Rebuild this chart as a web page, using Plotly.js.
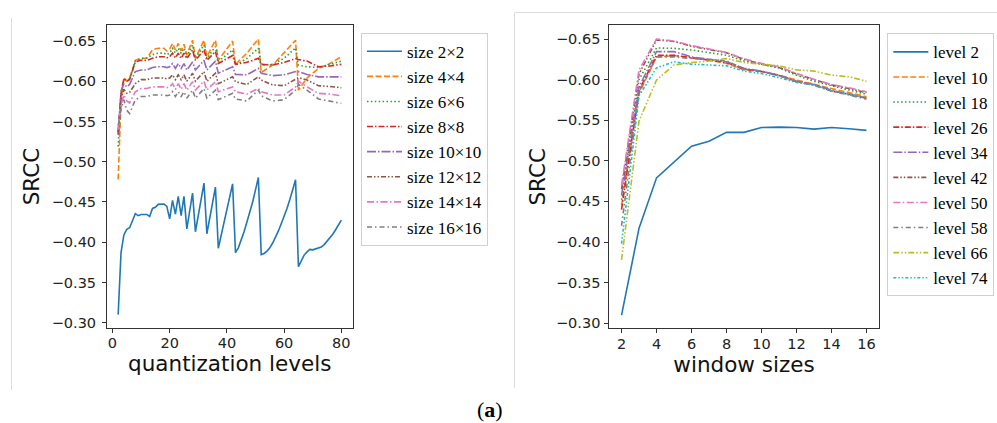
<!DOCTYPE html>
<html>
<head>
<meta charset="utf-8">
<script src="https://cdn.plot.ly/plotly-3.0.1.min.js"></script>
<style>html,body{margin:0;padding:0;background:#fff;}#chart{width:997px;height:423px;}</style>
</head>
<body>
<div id="chart"></div>
<script>
// ---------- left panel: SRCC vs quantization levels ----------
const levelsFine = [2,3,4,5,6,7,8,9,10,12,13,14,15,16,17,18,19,20,21,22,23,24,25,26,28,29,32,33,36,37,42,43,44,45,46,47,48,49,50,51,52,53,54,55,56,57,58,59,60,61,62,63,64,65,66,67,68,69,70,71,72,73,74,75,76,77,78,79,80];
const size2 = [-0.310,-0.387,-0.409,-0.416,-0.418,-0.426,-0.4355,-0.433,-0.4345,-0.4345,-0.432,-0.442,-0.4435,-0.447,-0.4475,-0.4475,-0.4445,-0.429,-0.452,-0.435,-0.457,-0.433,-0.457,-0.4165,-0.461,-0.413,-0.4735,-0.4105,-0.4685,-0.3925,-0.4725,-0.387,-0.393,-0.402,-0.413,-0.425,-0.437,-0.450,-0.465,-0.4805,-0.3846,-0.386,-0.389,-0.393,-0.399,-0.406,-0.414,-0.423,-0.432,-0.442,-0.453,-0.465,-0.4775,-0.3697,-0.3775,-0.384,-0.388,-0.391,-0.3905,-0.392,-0.393,-0.394,-0.397,-0.401,-0.405,-0.410,-0.4155,-0.421,-0.4275];

const levels = [2,3,4,5,6,8,10,12,14,16,18,19,20,21,22,23,24,25,26,28,29,32,33,36,37,42,43,47,51,52,56,60,64,65,68,72,76,80];
const size4  = [-0.478,-0.575,-0.604,-0.600,-0.603,-0.626,-0.6285,-0.6285,-0.639,-0.641,-0.641,-0.6375,-0.640,-0.647,-0.639,-0.647,-0.638,-0.646,-0.633,-0.651,-0.6285,-0.651,-0.6305,-0.651,-0.626,-0.650,-0.621,-0.635,-0.6525,-0.611,-0.620,-0.635,-0.651,-0.589,-0.604,-0.616,-0.622,-0.6305];
const size6  = [-0.519,-0.580,-0.604,-0.601,-0.603,-0.625,-0.628,-0.629,-0.633,-0.635,-0.635,-0.633,-0.635,-0.641,-0.635,-0.641,-0.635,-0.641,-0.6305,-0.645,-0.6285,-0.645,-0.6285,-0.643,-0.6245,-0.639,-0.620,-0.6285,-0.641,-0.620,-0.621,-0.6285,-0.6415,-0.620,-0.618,-0.617,-0.621,-0.625];
const size8  = [-0.537,-0.585,-0.603,-0.600,-0.602,-0.624,-0.626,-0.626,-0.6285,-0.6305,-0.6305,-0.629,-0.6305,-0.635,-0.629,-0.635,-0.6285,-0.635,-0.628,-0.639,-0.626,-0.639,-0.626,-0.637,-0.622,-0.632,-0.621,-0.6235,-0.6285,-0.621,-0.620,-0.6235,-0.628,-0.627,-0.625,-0.618,-0.619,-0.621];
const size10 = [-0.533,-0.588,-0.597,-0.593,-0.596,-0.612,-0.614,-0.614,-0.617,-0.618,-0.618,-0.617,-0.618,-0.622,-0.616,-0.622,-0.616,-0.622,-0.614,-0.624,-0.614,-0.626,-0.614,-0.625,-0.610,-0.618,-0.6085,-0.608,-0.616,-0.610,-0.607,-0.608,-0.612,-0.612,-0.6085,-0.6055,-0.6055,-0.6055];
const size12 = [-0.535,-0.578,-0.590,-0.585,-0.586,-0.597,-0.602,-0.602,-0.604,-0.604,-0.604,-0.603,-0.604,-0.608,-0.602,-0.608,-0.602,-0.608,-0.600,-0.610,-0.600,-0.612,-0.600,-0.610,-0.597,-0.6055,-0.5995,-0.596,-0.6055,-0.6015,-0.5955,-0.5945,-0.603,-0.6045,-0.6015,-0.5945,-0.5935,-0.592];
const size14 = [-0.540,-0.570,-0.583,-0.5755,-0.573,-0.587,-0.591,-0.591,-0.593,-0.593,-0.593,-0.592,-0.593,-0.597,-0.590,-0.597,-0.590,-0.597,-0.589,-0.5995,-0.589,-0.600,-0.589,-0.5995,-0.587,-0.593,-0.587,-0.584,-0.591,-0.587,-0.583,-0.583,-0.593,-0.600,-0.593,-0.585,-0.584,-0.582];
const size16 = [-0.545,-0.565,-0.577,-0.564,-0.560,-0.577,-0.581,-0.581,-0.583,-0.583,-0.583,-0.582,-0.583,-0.587,-0.581,-0.587,-0.581,-0.587,-0.579,-0.589,-0.579,-0.591,-0.579,-0.589,-0.577,-0.585,-0.578,-0.5755,-0.589,-0.582,-0.5755,-0.577,-0.589,-0.596,-0.589,-0.578,-0.5755,-0.5725];
const leftNames = ["size 2×2","size 4×4","size 6×6","size 8×8","size 10×10","size 12×12","size 14×14","size 16×16"];

// ---------- right panel: SRCC vs window sizes ----------
const windows = [2,3,4,5,6,7,8,9,10,11,12,13,14,15,16];
const lv2  = [-0.310,-0.417,-0.479,-0.499,-0.518,-0.524,-0.535,-0.535,-0.541,-0.5415,-0.541,-0.539,-0.541,-0.5395,-0.5375];
const lv10 = [-0.445,-0.583,-0.628,-0.6295,-0.627,-0.624,-0.620,-0.612,-0.610,-0.6055,-0.5995,-0.594,-0.589,-0.584,-0.579];
const lv18 = [-0.452,-0.600,-0.639,-0.6385,-0.6365,-0.6335,-0.630,-0.623,-0.619,-0.6145,-0.6055,-0.598,-0.5925,-0.587,-0.582];
const lv26 = [-0.440,-0.587,-0.630,-0.630,-0.627,-0.624,-0.621,-0.613,-0.610,-0.605,-0.5975,-0.5935,-0.586,-0.582,-0.577];
const lv34 = [-0.458,-0.591,-0.6345,-0.6345,-0.628,-0.625,-0.622,-0.614,-0.6105,-0.6055,-0.598,-0.594,-0.587,-0.582,-0.577];
const lv42 = [-0.465,-0.607,-0.649,-0.647,-0.641,-0.637,-0.633,-0.625,-0.619,-0.615,-0.607,-0.600,-0.5935,-0.589,-0.584];
const lv50 = [-0.470,-0.612,-0.650,-0.6475,-0.642,-0.638,-0.6335,-0.6255,-0.620,-0.616,-0.6075,-0.6005,-0.594,-0.590,-0.585];
const lv58 = [-0.420,-0.585,-0.628,-0.628,-0.626,-0.625,-0.623,-0.613,-0.610,-0.605,-0.5975,-0.593,-0.586,-0.581,-0.576];
const lv66 = [-0.378,-0.549,-0.5995,-0.618,-0.621,-0.623,-0.626,-0.621,-0.619,-0.617,-0.612,-0.6105,-0.6055,-0.6035,-0.598];
const lv74 = [-0.398,-0.580,-0.6145,-0.622,-0.619,-0.618,-0.617,-0.6105,-0.6075,-0.6025,-0.5965,-0.5935,-0.586,-0.582,-0.578];
const rightNames = ["level 2","level 10","level 18","level 26","level 34","level 42","level 50","level 58","level 66","level 74"];

const yTicks = [-0.65,-0.60,-0.55,-0.50,-0.45,-0.40,-0.35,-0.30];
const xTicksLeft = [0,20,40,60,80];
const xTicksRight = [2,4,6,8,10,12,14,16];

// ---------- styles ----------
const colors = ["#1f77b4","#ff7f0e","#2ca02c","#d62728","#9467bd","#8c564b","#e377c2","#7f7f7f","#bcbd22","#17becf"];
const dashes = ["solid","6px,2.5px","1.5px,2.4px","6px,2px,1.5px,2px","9px,2px,1.5px,2px","5px,2px,1.5px,2px,1.5px,2px","7px,2.5px,1.5px,2.5px","5px,3px,1.5px,3px","6px,2px,1.5px,2px,1.5px,2px","3px,2px,1.5px,2px,1.5px,2px"];
const LW = 1.6;

const traces = [];
const leftY = [size2,size4,size6,size8,size10,size12,size14,size16];
leftY.forEach((ys,i)=>{
  traces.push({type:"scatter",mode:"lines",x:(i===0?levelsFine:levels),y:ys,name:leftNames[i],
    line:{color:colors[i],width:LW,dash:dashes[i]},xaxis:"x",yaxis:"y",legend:"legend"});
});
const rightY = [lv2,lv10,lv18,lv26,lv34,lv42,lv50,lv58,lv66,lv74];
rightY.forEach((ys,i)=>{
  traces.push({type:"scatter",mode:"lines",x:windows,y:ys,name:rightNames[i],
    line:{color:colors[i],width:LW,dash:dashes[i]},xaxis:"x2",yaxis:"y2",legend:"legend2"});
});

const W=997,H=423;
const px=v=>v/W, py=v=>1-v/H;
const tickFont={family:"DejaVu Sans",size:14.5,color:"#222"};
const titleFont={family:"DejaVu Sans",size:21.5,color:"#111"};
const legFont={family:"Liberation Serif",size:17,color:"#000"};
const axCommon={showline:true,mirror:true,linecolor:"#333",linewidth:1,ticks:"outside",ticklen:4,tickwidth:1,tickcolor:"#333",
  showgrid:false,zeroline:false,tickfont:tickFont,fixedrange:true};

const layout={
  width:W,height:H,margin:{l:0,r:0,t:0,b:0},paper_bgcolor:"#fff",plot_bgcolor:"#fff",showlegend:true,
  xaxis:Object.assign({},axCommon,{domain:[px(107),px(352.5)],range:[-1.9,83.9],tickvals:xTicksLeft,ticklabelstandoff:-2,
    title:{text:"quantization levels",font:titleFont,standoff:4},anchor:"y"}),
  yaxis:Object.assign({},axCommon,{domain:[py(328),py(25)],range:[-0.2934,-0.6699],tickvals:yTicks,tickformat:".2f",ticklabelstandoff:3,
    title:{text:"SRCC",font:titleFont,standoff:6},anchor:"x"}),
  xaxis2:Object.assign({},axCommon,{domain:[px(609.3),px(878.7)],range:[1.3,16.7],tickvals:xTicksRight,ticklabelstandoff:-2,
    title:{text:"window sizes",font:titleFont,standoff:4},anchor:"y2"}),
  yaxis2:Object.assign({},axCommon,{domain:[py(328.3),py(25.3)],range:[-0.2937,-0.6669],tickvals:yTicks,tickformat:".2f",ticklabelstandoff:1,
    title:{text:"SRCC",font:titleFont,standoff:4},anchor:"x2"}),
  legend:{x:px(361),y:py(32.7),xanchor:"left",yanchor:"top",bgcolor:"#fff",bordercolor:"#d0d0d0",borderwidth:1,font:legFont,itemwidth:35,tracegroupgap:0},
  legend2:{x:px(887.3),y:py(33.3),xanchor:"left",yanchor:"top",bgcolor:"#fff",bordercolor:"#d0d0d0",borderwidth:1,font:legFont,itemwidth:35,tracegroupgap:0},
  shapes:[
    {type:"line",xref:"paper",yref:"paper",x0:px(11.5),x1:px(11.5),y0:py(18),y1:py(390),line:{color:"#dcdcdc",width:1}},
    {type:"line",xref:"paper",yref:"paper",x0:px(514.5),x1:px(514.5),y0:py(12.5),y1:py(388),line:{color:"#dcdcdc",width:1}},
    {type:"line",xref:"paper",yref:"paper",x0:px(514.5),x1:1,y0:py(12.5),y1:py(12.5),line:{color:"#dcdcdc",width:1}}
  ],
  annotations:[
    {text:"(<b>a</b>)",xref:"paper",yref:"paper",x:px(490),y:py(409),xanchor:"center",yanchor:"middle",showarrow:false,
     font:{family:"Liberation Serif",size:22,color:"#000"}}
  ]
};
Plotly.newPlot("chart",traces,layout,{staticPlot:true,displayModeBar:false});
</script>
</body>
</html>
